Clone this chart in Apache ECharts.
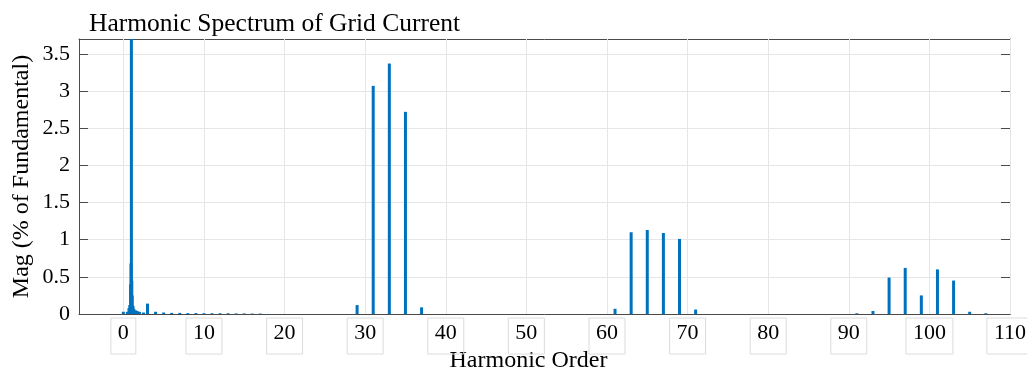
<!DOCTYPE html>
<html>
<head>
<meta charset="utf-8">
<title>Harmonic Spectrum of Grid Current</title>
<script src="https://cdn.jsdelivr.net/npm/echarts@6/dist/echarts.min.js"></script>
<style>
  html, body { margin: 0; padding: 0; background: #ffffff; }
  #chart { width: 1027px; height: 373px; }
</style>
</head>
<body>
<div id="chart"></div>
<script>
// Harmonic order of each FFT bin (fine bins around the fundamental show leakage)
const harmonicOrder = [
  0, 0.5, 0.7, 0.8, 0.9, 0.95, 1, 1.05, 1.1, 1.2, 1.3, 1.5, 1.7, 2, 2.5,
  3, 4, 5, 6, 7, 8, 9, 10, 11, 12, 13, 14, 15, 16, 17,
  29, 31, 33, 35, 37,
  61, 63, 65, 67, 69, 71,
  91, 93, 95, 97, 99, 101, 103, 105, 107
];
// Magnitude in % of fundamental (fundamental itself = 100, off scale)
const magnitude = [
  0.03, 0.03, 0.08, 0.12, 0.4, 0.68, 100, 0.45, 0.25, 0.11, 0.07, 0.05, 0.04, 0.03, 0.02,
  0.14, 0.03, 0.02, 0.015, 0.015, 0.012, 0.012, 0.01, 0.01, 0.01, 0.01, 0.008, 0.008, 0.006, 0.006,
  0.12, 3.07, 3.37, 2.72, 0.09,
  0.07, 1.10, 1.13, 1.09, 1.01, 0.06,
  0.01, 0.04, 0.49, 0.62, 0.25, 0.60, 0.45, 0.03, 0.01
];
const xTicks = [0, 10, 20, 30, 40, 50, 60, 70, 80, 90, 100, 110];

const FONT = 'Liberation Serif';
const AXIS_COLOR = '#4a4a4a';
const GRID_COLOR = '#e6e6e6';

const spectrum = harmonicOrder.map((h, i) => [h, magnitude[i]]);

const chart = echarts.init(document.getElementById('chart'), null, { renderer: 'canvas' });

const tickStyle = { show: true, inside: true, length: 9, lineStyle: { color: AXIS_COLOR, width: 1 } };

chart.setOption({
  animation: false,
  backgroundColor: '#ffffff',
  title: {
    text: 'Harmonic Spectrum of Grid Current',
    left: 84,
    top: 6,
    textStyle: { fontFamily: FONT, fontSize: 25.5, fontWeight: 'normal', color: '#000' }
  },
  grid: {
    left: 79, right: 17, top: 39, bottom: 59,
    outerBoundsMode: 'none',
    containLabel: false,
    show: false
  },
  xAxis: [
    {
      type: 'value',
      min: -5.5,
      max: 110,
      position: 'bottom',
      name: 'Harmonic Order',
      nameLocation: 'middle',
      nameGap: 35,
      nameMoveOverlap: false,
      nameTextStyle: { fontFamily: FONT, fontSize: 24, color: '#000', padding: [0, 32, 0, 0] },
      axisLine: { show: true, onZero: false, lineStyle: { color: AXIS_COLOR, width: 1 } },
      axisTick: Object.assign({ customValues: xTicks }, tickStyle),
      axisLabel: {
        customValues: xTicks,
        fontFamily: FONT, fontSize: 22, color: '#000',
        margin: 4,
        padding: [4, 7, 10, 7],
        borderColor: '#dcdcdc',
        borderWidth: 1
      },
      splitLine: { show: false }
    },
    {
      type: 'value',
      min: -5.5,
      max: 110,
      position: 'top',
      axisLine: { show: true, onZero: false, lineStyle: { color: AXIS_COLOR, width: 1 } },
      axisTick: Object.assign({ customValues: xTicks }, tickStyle),
      axisLabel: { show: false },
      splitLine: { show: false }
    }
  ],
  yAxis: [
    {
      type: 'value',
      min: 0,
      max: 3.7,
      interval: 0.5,
      position: 'left',
      name: 'Mag (% of Fundamental)',
      nameLocation: 'middle',
      nameGap: 45,
      nameMoveOverlap: false,
      nameTextStyle: { fontFamily: FONT, fontSize: 24, color: '#000' },
      axisLine: { show: true, onZero: false, lineStyle: { color: AXIS_COLOR, width: 1 } },
      axisTick: tickStyle,
      axisLabel: {
        fontFamily: FONT, fontSize: 22, color: '#000', margin: 9,
        showMaxLabel: false,
        formatter: v => String(+v.toFixed(1))
      },
      splitLine: { show: true, lineStyle: { color: GRID_COLOR, width: 1 } }
    },
    {
      type: 'value',
      min: 0,
      max: 3.7,
      interval: 0.5,
      position: 'right',
      axisLine: { show: true, onZero: false, lineStyle: { color: AXIS_COLOR, width: 1 } },
      axisTick: tickStyle,
      axisLabel: { show: false },
      splitLine: { show: false }
    }
  ],
  series: [
    {
      name: 'Spectrum',
      type: 'bar',
      xAxisIndex: 0,
      yAxisIndex: 0,
      data: spectrum,
      barWidth: 3,
      itemStyle: { color: '#0072BD' },
      clip: true,
      z: 3,
      markLine: {
        silent: true,
        symbol: 'none',
        label: { show: false },
        lineStyle: { color: GRID_COLOR, width: 1, type: 'solid' },
        z: 1,
        data: xTicks.map(v => ({ xAxis: v }))
      }
    }
  ]
});
</script>
</body>
</html>
